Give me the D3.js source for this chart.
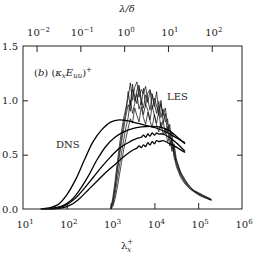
<!DOCTYPE html>
<html>
<head>
<meta charset="utf-8">
<script src="https://cdn.jsdelivr.net/npm/d3@7"></script>
<style>
  body { margin: 0; background: #fff; }
  svg { display: block; }
</style>
</head>
<body>
<svg id="chart" width="253" height="256"></svg>
<script>
// log10(lambda_x^+) + premultiplied spectra
var dnsA = [[1.4,0],[1.6,0.01],[1.8,0.04],[2.0,0.13],[2.2,0.27],[2.4,0.45],[2.6,0.62],[2.8,0.73],[3.0,0.80],[3.2,0.82],[3.4,0.81],[3.6,0.79],[3.8,0.77],[4.0,0.75],[4.2,0.72],[4.4,0.68],[4.6,0.63],[4.7,0.61]];
var dnsB = [[1.45,0],[1.7,0.01],[1.9,0.03],[2.1,0.08],[2.3,0.18],[2.5,0.31],[2.7,0.46],[2.9,0.58],[3.1,0.66],[3.3,0.71],[3.5,0.74],[3.7,0.755],[3.9,0.76],[4.1,0.755],[4.3,0.73],[4.5,0.67],[4.7,0.60]];
var dnsC = [[1.5,0],[1.8,0.01],[2.0,0.04],[2.2,0.10],[2.4,0.19],[2.6,0.29],[2.8,0.39],[3.0,0.48],[3.2,0.56],[3.4,0.61],[3.6,0.65],[3.7,0.66],[3.75,0.68],[3.8,0.66],[3.85,0.69],[3.9,0.67],[3.95,0.70],[4.0,0.68],[4.05,0.70],[4.1,0.69],[4.2,0.69],[4.3,0.67],[4.5,0.61],[4.7,0.53]];
var dnsD = [[1.6,0],[1.9,0.01],[2.1,0.04],[2.3,0.10],[2.5,0.18],[2.7,0.26],[2.9,0.34],[3.1,0.41],[3.3,0.48],[3.5,0.54],[3.6,0.56],[3.65,0.58],[3.7,0.565],[3.75,0.59],[3.8,0.575],[3.85,0.61],[3.9,0.59],[3.95,0.62],[4.0,0.60],[4.05,0.63],[4.1,0.62],[4.2,0.63],[4.3,0.61],[4.5,0.57],[4.7,0.52]];

var lesGrid = [3.00,3.05,3.10,3.15,3.20,3.25,3.30,3.35,3.40,3.45,3.50,3.55,3.60,3.65,3.70,3.75,3.80,3.85,3.90,3.95,4.00,4.05,4.10,4.15,4.20,4.25,4.30,4.35,4.40,4.45,4.50,4.60,4.70,4.80,4.90,5.00,5.10,5.20,5.30];
var lesA = [0,0.10,0.25,0.42,0.58,0.72,0.84,0.93,1.02,1.16,1.00,1.12,1.17,1.03,1.10,1.06,1.13,0.98,1.09,1.04,0.94,1.08,0.90,0.97,0.86,0.93,0.78,0.74,0.62,0.52,0.45,0.34,0.27,0.21,0.17,0.15,0.13,0.11,0.09];
var lesB = [0,0.06,0.18,0.33,0.48,0.62,0.74,0.86,0.96,0.90,1.10,1.04,0.97,1.12,1.01,0.93,1.05,1.00,0.91,1.06,0.97,0.88,0.99,0.84,0.92,0.80,0.83,0.66,0.70,0.50,0.43,0.32,0.25,0.20,0.17,0.14,0.12,0.10,0.085];
var lesC = [0,0.04,0.13,0.26,0.39,0.52,0.64,0.75,0.84,1.00,0.88,0.97,1.06,0.92,0.99,0.87,0.96,0.91,0.82,0.95,0.86,0.79,0.90,0.74,0.81,0.69,0.76,0.58,0.64,0.47,0.41,0.31,0.24,0.19,0.16,0.14,0.12,0.10,0.08];
var lesD = [0,0.02,0.09,0.19,0.31,0.43,0.55,0.65,0.74,0.83,0.79,0.93,0.86,0.80,0.94,0.84,0.78,0.89,0.81,0.75,0.87,0.77,0.71,0.80,0.68,0.74,0.62,0.66,0.53,0.57,0.39,0.29,0.23,0.19,0.16,0.13,0.11,0.095,0.08];
var lesE = [0,0.07,0.20,0.36,0.52,0.66,0.79,0.90,1.08,0.95,1.15,0.99,1.09,1.14,0.96,1.11,0.95,1.07,1.10,0.92,1.02,0.95,0.86,1.00,0.80,0.88,0.70,0.78,0.55,0.60,0.46,0.33,0.26,0.21,0.17,0.15,0.125,0.105,0.088];

var bottomTicks = [1e1,1e2,1e3,1e4,1e5,1e6];
var bottomExp = ["1","2","3","4","5","6"];
var topTicks = [1e-2,1e-1,1e0,1e1,1e2];
var topExp = ["\u22122","\u22121","0","1","2"];
var yTicks = [0,0.5,1.0,1.5];
var deltaPlus = 2040; // lambda/delta -> lambda^+

var serif = "'DejaVu Serif', 'Liberation Serif', serif";
var svg = d3.select("#chart").attr("font-family", serif);
var x = d3.scaleLog().domain([1e1,1e6]).range([23,242]);
var xTop = d3.scaleLog().domain([1e1/deltaPlus,1e6/deltaPlus]).range([23,242]);
var y = d3.scaleLinear().domain([0,1.5]).range([209,46]);

var lineSmooth = d3.line()
  .x(function(d) { return x(Math.pow(10, d[0])); })
  .y(function(d) { return y(d[1]); })
  .curve(d3.curveCatmullRom);

var lineRough = d3.line()
  .x(function(d) { return x(Math.pow(10, d[0])); })
  .y(function(d) { return y(d[1]); });

// LES, thin
[lesA, lesB, lesC, lesD, lesE].forEach(function(s) {
  var pts = lesGrid.map(function(g, i) { return [g, s[i]]; });
  svg.append("path").attr("d", lineRough(pts))
    .attr("fill","none").attr("stroke","#111").attr("stroke-width",0.75);
});

// DNS, thick
[dnsA, dnsB, dnsC, dnsD].forEach(function(s) {
  svg.append("path").attr("d", lineSmooth(s))
    .attr("fill","none").attr("stroke","#000").attr("stroke-width",1.3);
});

// frame
svg.append("rect").attr("x",23).attr("y",46).attr("width",219).attr("height",163)
  .attr("fill","none").attr("stroke","#222").attr("stroke-width",1);

// ticks (inward)
svg.append("g").attr("transform","translate(0,209)")
  .call(d3.axisBottom(x).tickValues(bottomTicks.slice(1,5)).tickSize(-6).tickFormat(""))
  .call(function(g) { g.select(".domain").remove(); });
svg.append("g").attr("transform","translate(0,46)")
  .call(d3.axisTop(xTop).tickValues(topTicks).tickSize(-6).tickFormat(""))
  .call(function(g) { g.select(".domain").remove(); });
svg.append("g").attr("transform","translate(23,0)")
  .call(d3.axisLeft(y).tickValues([0.5,1.0]).tickSize(-5).tickFormat(""))
  .call(function(g) { g.select(".domain").remove(); });
svg.append("g").attr("transform","translate(242,0)")
  .call(d3.axisRight(y).tickValues([0.5,1.0]).tickSize(-5).tickFormat(""))
  .call(function(g) { g.select(".domain").remove(); });
svg.selectAll(".tick line").attr("stroke","#222");

// tick labels
var pow10 = function(sel, base, exp) {
  sel.append("tspan").text(base);
  sel.append("tspan").attr("dy",-4).attr("font-size",7).text(exp);
};
bottomTicks.forEach(function(t, i) {
  svg.append("text").attr("x", x(t) + 2).attr("y",228).attr("text-anchor","middle")
    .attr("font-size",10).attr("fill","#222").call(pow10, "10", bottomExp[i]);
});
topTicks.forEach(function(t, i) {
  svg.append("text").attr("x", xTop(t) + 2).attr("y",36).attr("text-anchor","middle")
    .attr("font-size",10).attr("fill","#222").call(pow10, "10", topExp[i]);
});
yTicks.forEach(function(t) {
  svg.append("text").attr("x",18).attr("y", y(t) + 3.5).attr("text-anchor","end")
    .attr("font-size",10).attr("fill","#222").text(d3.format(".1f")(t));
});

// axis titles
var tt = svg.append("text").attr("x",127).attr("y",12).attr("text-anchor","middle")
  .attr("font-size",10).attr("fill","#222");
tt.append("tspan").attr("font-style","italic").text("\u03bb/\u03b4");

var bt = svg.append("text").attr("x",127).attr("y",249).attr("text-anchor","middle")
  .attr("font-size",10).attr("fill","#222");
bt.append("tspan").text("\u03bb");
bt.append("tspan").attr("font-size",7).attr("font-style","italic").attr("dy",3).text("x");
bt.append("tspan").attr("font-size",7).attr("dx",-4).attr("dy",-8).text("+");

// panel label
var pl = svg.append("text").attr("x",34).attr("y",76).attr("font-size",10).attr("fill","#222");
pl.append("tspan").text("(");
pl.append("tspan").attr("font-style","italic").text("b");
pl.append("tspan").text(") (");
pl.append("tspan").attr("font-style","italic").text("\u03ba");
pl.append("tspan").attr("font-style","italic").attr("font-size",7).attr("dy",2).text("x");
pl.append("tspan").attr("font-style","italic").attr("dy",-2).text("E");
pl.append("tspan").attr("font-style","italic").attr("font-size",7).attr("dy",2).text("uu");
pl.append("tspan").attr("dy",-2).text(")");
pl.append("tspan").attr("font-size",7).attr("dy",-4).text("+");

svg.append("text").attr("x",56).attr("y",148).attr("font-size",10).attr("fill","#222").text("DNS");
svg.append("text").attr("x",167).attr("y",100).attr("font-size",10).attr("fill","#222").text("LES");
</script>
</body>
</html>
